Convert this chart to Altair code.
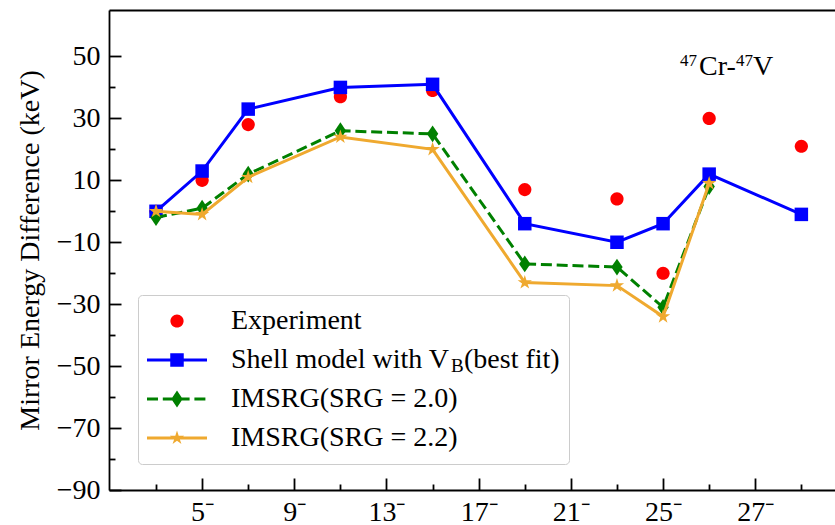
import math
import altair as alt
import pandas as pd

# ---------------- data ----------------
positions = [0, 1, 2, 4, 6, 8, 10, 11, 12, 14]
experiment = [0, 10, 28, 37, 39, 7, 4, -20, 30, 21]
shell_model = [0, 13, 33, 40, 41, -4, -10, -4, 12, -1]
imsrg_20 = [-2, 1, 12, 26, 25, -17, -18, -31, 8]
imsrg_22 = [0, -1, 11, 24, 20, -23, -24, -34, 9]

series_names = ["Experiment", "Shell model with V\u00a0\u2009\u200a(best fit)",
                "IMSRG(SRG = 2.0)", "IMSRG(SRG = 2.2)"]
series_colors = ["#ff0000", "#0000ff", "#008000", "#efa92f"]

x_major = [1, 3, 5, 7, 9, 11, 13]
x_tick_labels = ["5\u207b", "9\u207b", "13\u207b", "17\u207b", "21\u207b", "25\u207b", "27\u207b"]
x_minor = [0, 2, 4, 6, 8, 10, 12, 14]
y_major = [-90, -70, -50, -30, -10, 10, 30, 50]
y_minor = [-80, -60, -40, -20, 0, 20, 40]

y_title = "Mirror Energy Difference (keV)"
anno_parts = ["47", "Cr-", "47", "V"]
sub_b = "B"

rows = []
for name, vals in zip(series_names, [experiment, shell_model, imsrg_20, imsrg_22]):
    for p, v in zip(positions, vals):
        rows.append({"p": p, "v": v, "series": name})
df = pd.DataFrame(rows)

# ---------------- styles ----------------
FONT = "Liberation Serif"
FS = 28
W, H = 726, 480
LW = 3
DASH = [11, 4.8]
U = 30.0  # path unit in px (size 3600)


def circle_path(r):
    return f"M{r},0A{r},{r} 0 1,1 {-r},0A{r},{r} 0 1,1 {r},0Z"


def square_path(h):
    return f"M{-h},{-h}H{h}V{h}H{-h}Z"


def diamond_path(w, h):
    return f"M0,{-h}L{w},0L0,{h}L{-w},0Z"


def star_path(R):
    r = R * 0.381966
    pts = []
    for k in range(10):
        ang = math.radians(-90 + 36 * k)
        rad = R if k % 2 == 0 else r
        pts.append((rad * math.cos(ang), rad * math.sin(ang)))
    return "M" + "L".join(f"{x:.4f},{y:.4f}" for x, y in pts) + "Z"


def bar(x0, x1, t=0.05):
    return f"M{x0:.4f},{-t}H{x1:.4f}V{t}H{x0:.4f}Z"


def dashed_bars():
    out, s = [], -1.0
    while s < 1.0:
        e = min(s + DASH[0] / U, 1.0)
        out.append(bar(s, e))
        s = e + DASH[1] / U
    return "".join(out)


m_circle = circle_path(0.22)
m_square = square_path(0.225)
m_diamond = diamond_path(0.19, 0.28)
m_star = star_path(0.25)
plot_shapes = [m_circle, m_square, m_diamond, m_star]
legend_shapes = [m_circle, bar(-1, 1) + m_square, dashed_bars() + m_diamond, bar(-1, 1) + m_star]

xs = alt.Scale(domain=[-1.02, 14.73], nice=False, zero=False)
ys = alt.Scale(domain=[-90, 65], nice=False, zero=False)

label_expr_x = "[" + ",".join(f"'{t}'" for t in x_tick_labels) + "][round((datum.value - 1) / 2)]"

ax_x_labels = alt.Axis(orient="bottom", values=x_major, labelExpr=label_expr_x, ticks=False,
                       domain=True, domainColor="black", domainWidth=1.8, labelFont=FONT,
                       labelFontSize=FS, labelColor="black", labelPadding=8, grid=False,
                       title=None, labelFlush=False, labelOverlap=False)
ax_y_labels = alt.Axis(orient="left", values=y_major,
                       labelExpr="replace(datum.label, '-', '\u2212')", ticks=False,
                       domain=True, domainColor="black", domainWidth=1.8, labelFont=FONT,
                       labelFontSize=FS, labelColor="black", labelPadding=9, grid=False,
                       title=y_title, titleFont=FONT, titleFontSize=FS, titleFontWeight="normal",
                       titleColor="black", titleX=-79, titleY=H / 2, titleAngle=270,
                       titleAlign="center", titleBaseline="middle",
                       labelFlush=False, labelOverlap=False)


def tick_axis(orient, offset, values, size):
    return alt.Axis(orient=orient, offset=offset, values=values, labels=False, domain=False,
                    ticks=True, tickSize=size, tickWidth=1.8, tickColor="black", grid=False,
                    title=None)


ax_x_major = tick_axis("top", -H, x_major, 12)
ax_x_minor = tick_axis("top", -H, x_minor, 6)
ax_y_major = tick_axis("right", -W, y_major, 12)
ax_y_minor = tick_axis("right", -W, y_minor, 6)
ax_x_top = alt.Axis(orient="top", labels=False, ticks=False, domain=True, domainWidth=1.8,
                    domainColor="black", grid=False, title=None)

base = alt.Chart(df)


def enc(chart, xa=None, ya=None):
    return chart.encode(
        x=alt.X("p:Q", scale=xs, axis=xa),
        y=alt.Y("v:Q", scale=ys, axis=ya),
    )


layers = []
# Experiment points (with main axes)
layers.append(enc(base.transform_filter(alt.datum.series == series_names[0])
                  .mark_point(shape=plot_shapes[0], filled=True, size=3600, opacity=1,
                              color=series_colors[0]),
                  ax_x_labels, ax_y_labels))
axes_for = {
    1: [(ax_x_major, ax_y_major), (ax_x_minor, ax_y_minor)],
    2: [(ax_x_top, None), (None, None)],
    3: [(None, None), (None, None)],
}
for i in (1, 2, 3):
    sel = base.transform_filter(alt.datum.series == series_names[i])
    line_kw = dict(color=series_colors[i], strokeWidth=LW)
    if i == 2:
        line_kw["strokeDash"] = DASH
    (la_x, la_y), (pa_x, pa_y) = axes_for[i]
    layers.append(enc(sel.mark_line(**line_kw), la_x, la_y))
    layers.append(enc(sel.mark_point(shape=plot_shapes[i], filled=True, size=3600, opacity=1,
                                     color=series_colors[i]), pa_x, pa_y))

legend = alt.Legend(orient="none", legendX=29, legendY=285, title=None, labelFont=FONT,
                    labelFontSize=FS, labelColor="black", labelLimit=800, labelOffset=23,
                    symbolSize=3600, clipHeight=36, rowPadding=3, padding=8,
                    strokeColor="#cccccc", cornerRadius=4, symbolOpacity=1)
legend_layer = base.transform_filter("false").mark_point(filled=True, size=3600, opacity=1).encode(
    color=alt.Color("series:N", scale=alt.Scale(domain=series_names, range=series_colors),
                    legend=legend),
    shape=alt.Shape("series:N", scale=alt.Scale(domain=series_names, range=legend_shapes),
                    legend=legend),
)
layers.append(legend_layer)

# annotation  47Cr-47V
anno_x = [571, 590, 627, 644]
anno_y = [56, 65, 56, 65]
anno_fs = [17, FS, 17, FS]
for t, ax, ay, fs in zip(anno_parts, anno_x, anno_y, anno_fs):
    layers.append(alt.Chart(pd.DataFrame({"t": [t]})).mark_text(
        font=FONT, fontSize=fs, align="left", baseline="alphabetic", color="black"
    ).encode(x=alt.value(ax), y=alt.value(ay), text="t:N"))

# subscript B in legend label
layers.append(alt.Chart(pd.DataFrame({"t": [sub_b]})).mark_text(
    font=FONT, fontSize=19, align="left", baseline="alphabetic", color="black"
).encode(x=alt.value(342), y=alt.value(362), text="t:N"))

chart = alt.layer(*layers).resolve_axis(x="independent", y="independent").properties(
    width=W, height=H,
    autosize=alt.AutoSizeParams(type="none"),
    padding={"left": 109, "top": 10, "right": 0, "bottom": 35},
    background="white",
).configure_view(stroke="transparent")

chart.save("out.html", embed_options={"renderer": "svg", "actions": False})
